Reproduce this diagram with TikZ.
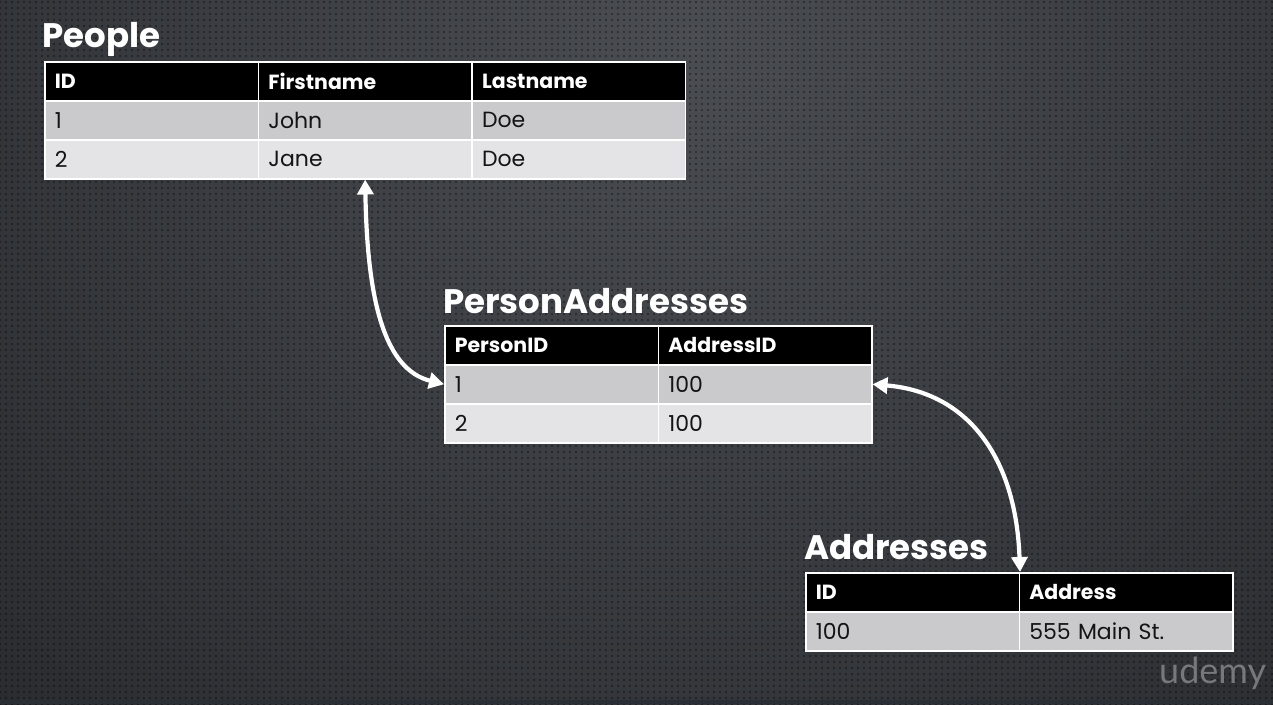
\documentclass[tikz,border=0pt]{standalone}
\usepackage{fontspec}
\setmainfont{Poppins}
\newfontfamily\logofont{Lato}
\usetikzlibrary{arrows.meta,patterns.meta}

\definecolor{bgtop}{HTML}{4A4D52}
\definecolor{bgmid}{HTML}{2A2C30}
\definecolor{bgbot}{HTML}{1B1C1F}
\definecolor{rowA}{HTML}{CACACC}
\definecolor{rowB}{HTML}{E4E4E6}
\definecolor{celltext}{HTML}{141414}
\definecolor{logogray}{HTML}{77787B}
\definecolor{footstrip}{HTML}{2A2F36}

\pgfdeclareradialshading{backglow}{\pgfpoint{0bp}{0bp}}%
  {color(0bp)=(bgtop); color(24bp)=(bgmid); color(50bp)=(bgbot)}

\tikzset{
  tcell/.style={draw=white, line width=1.5pt, minimum height=39pt,
    anchor=north west, inner xsep=10pt, inner ysep=0pt,
    text width=193.5pt, align=left},
  hcell/.style={tcell, fill=black, text=white,
    font=\bfseries\fontsize{20.5}{24}\selectfont},
  bcellA/.style={tcell, fill=rowA, text=celltext,
    font=\fontsize{22}{26}\selectfont},
  bcellB/.style={tcell, fill=rowB, text=celltext,
    font=\fontsize{22}{26}\selectfont},
  ttitle/.style={anchor=base west, inner sep=0pt, text=white,
    font=\bfseries\fontsize{34}{40}\selectfont},
  link/.style={white, line width=4.2pt,
    {Triangle[length=15pt,width=16pt]}-{Triangle[length=15pt,width=16pt]}},
}

\begin{document}
\begin{tikzpicture}[x=1pt,y=-1pt]
  \useasboundingbox (0,0) rectangle (1273,704);

  % textured dark background
  \fill[bgbot] (0,0) rectangle (1273,704);
  \begin{scope}
    \clip (0,0) rectangle (1273,704);
    \shade[shading=backglow] (690,40) circle[radius=1000];
    \fill[pattern={Dots[distance=6pt,radius=1.2pt]}, pattern color=black,
      fill opacity=0.45] (0,0) rectangle (1273,704);
  \end{scope}
  \fill[footstrip] (0,700) rectangle (1273,704);

  % People
  \node[ttitle] (tpeople) at (42,47) {People};
  \node[hcell]  (pid)  at (44,61)     {ID};
  \node[hcell]  (pfn)  at (257.67,61) {Firstname};
  \node[hcell]  (pln)  at (471.33,61) {Lastname};
  \node[bcellA] (p11)  at (44,100)     {1};
  \node[bcellA] (p12)  at (257.67,100) {John};
  \node[bcellA] (p13)  at (471.33,100) {Doe};
  \node[bcellB] (p21)  at (44,139)     {2};
  \node[bcellB] (p22)  at (257.67,139) {Jane};
  \node[bcellB] (p23)  at (471.33,139) {Doe};

  % PersonAddresses
  \node[ttitle] (tpa) at (443,313) {PersonAddresses};
  \node[hcell]  (pah1) at (444,325)   {PersonID};
  \node[hcell]  (pah2) at (657.5,325) {AddressID};
  \node[bcellA] (pa11) at (444,364)   {1};
  \node[bcellA] (pa12) at (657.5,364) {100};
  \node[bcellB] (pa21) at (444,403)   {2};
  \node[bcellB] (pa22) at (657.5,403) {100};

  % Addresses
  \node[ttitle] (tad) at (804,559) {Addresses};
  \node[hcell]  (ah1) at (805,572)    {ID};
  \node[hcell]  (ah2) at (1018.5,572) {Address};
  \node[bcellA] (a11) at (805,611)    {100};
  \node[bcellA] (a12) at (1018.5,611) {555 Main St.};

  % relationships
  \draw[link] (p22.south) .. controls +(2,120) and +(-60,-15) .. (pa11.west);
  \draw[link] (pa12.east) .. controls +(95,8) and +(-4,-115) .. (ah1.north east);

  % logo
  \node[anchor=base west, inner sep=0pt, text=logogray,
    font=\logofont\fontsize{36}{36}\selectfont] (logo) at (1159,683) {udemy};
\end{tikzpicture}
\end{document}
